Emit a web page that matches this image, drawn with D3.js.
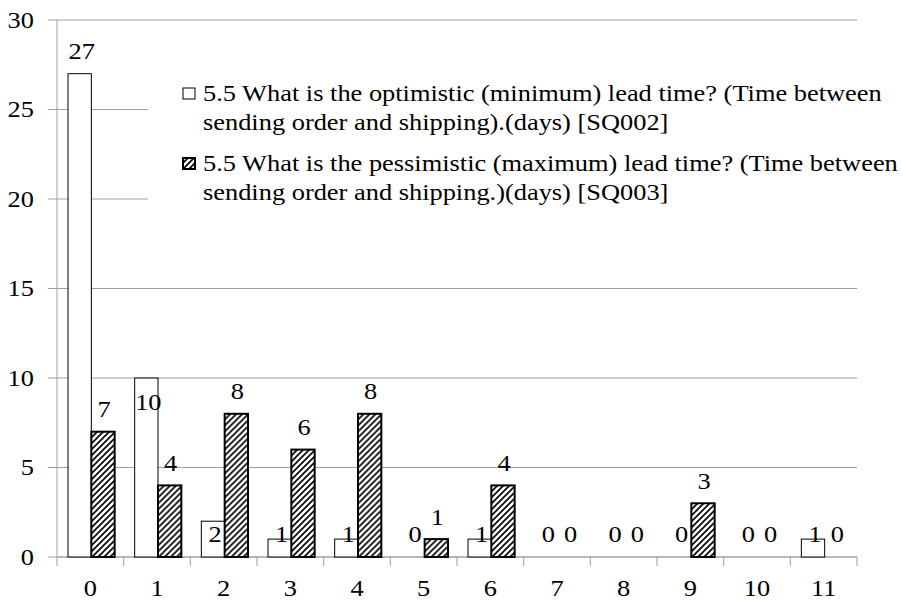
<!DOCTYPE html>
<html><head><meta charset="utf-8">
<script src="https://cdn.jsdelivr.net/npm/d3@7"></script>
</head><body style="margin:0;background:#fff"><svg id="c" width="903" height="600" font-family="Liberation Serif, Tinos, Times New Roman, serif"></svg>
<script>
const categories = ["0","1","2","3","4","5","6","7","8","9","10","11"];
const optimistic = [27,10,2,1,1,0,1,0,0,0,0,1];
const pessimistic = [7,4,8,6,8,1,4,0,0,3,0,0];
const seriesNames = [
  ["5.5 What is the optimistic (minimum) lead time? (Time between","sending order and shipping).(days)  [SQ002]"],
  ["5.5 What is the pessimistic (maximum) lead time? (Time between","sending order and shipping.)(days)  [SQ003]"]
];
const yTicks = [0,5,10,15,20,25,30];

const FONT = "Liberation Serif, Tinos, Times New Roman, serif";
const svg = d3.select("#c");
const L=57,R=857,T=20,B=557;
const FS=24, LFS=24, SX=1.1;
const x0 = d3.scaleBand().domain(categories).range([L,R]).paddingInner(0.3).paddingOuter(0.15);
const x1 = d3.scaleBand().domain([0,1]).range([0,x0.bandwidth()]);
const y = d3.scaleLinear().domain([0,30]).range([B,T]);

const defs = svg.append("defs");
const pat = defs.append("pattern").attr("id","hatch").attr("patternUnits","userSpaceOnUse").attr("width",6).attr("height",6);
pat.append("rect").attr("width",6).attr("height",6).attr("fill","#fff");
pat.append("path").attr("d","M-1,1 L1,-1 M0,6 L6,0 M5,7 L7,5").attr("stroke","#000").attr("stroke-width",1.6);

// gridlines + y labels
svg.append("g").selectAll("line").data(yTicks).join("line")
  .attr("x1",L-9).attr("x2",R).attr("y1",d=>y(d)).attr("y2",d=>y(d))
  .attr("stroke","#a0a0a0").attr("stroke-width",1);
svg.append("g").selectAll("text").data(yTicks).join("text")
  .attr("x",34).attr("y",d=>y(d)).attr("dy","0.33em").attr("text-anchor","end")
  .style("font-family",FONT).attr("font-size",FS).text(d=>d);

// legend background
const lg = svg.append("g");
lg.append("rect").attr("x",148).attr("y",62).attr("width",755).attr("height",164).attr("fill","#fff");

// y axis line
svg.append("line").attr("x1",L).attr("x2",L).attr("y1",T).attr("y2",B).attr("stroke","#a0a0a0");
// x axis
const xAxis = d3.axisBottom(x0).tickSize(0).tickPadding(27);
const gx = svg.append("g").attr("transform",`translate(0,${B})`).call(xAxis);
gx.attr("font-family",null);
gx.select(".domain").attr("stroke","#a0a0a0").attr("d",`M${L},0H${R}`);
gx.selectAll("text").attr("font-size",FS).style("font-family",FONT).attr("fill","#000").attr("dy","0.5em");
const bounds = categories.map(c=>x0(c)-x0.step()*x0.paddingInner()/2).concat([R]);
bounds[0]=L;
gx.append("g").selectAll("line").data(bounds).join("line")
  .attr("x1",d=>d).attr("x2",d=>d).attr("y1",0).attr("y2",9).attr("stroke","#a0a0a0");

// bars
const data = categories.map((c,i)=>({c,v:[optimistic[i],pessimistic[i]]}));
const groups = svg.append("g").selectAll("g").data(data).join("g")
  .attr("transform",d=>`translate(${x0(d.c)},0)`);
groups.selectAll("rect.o").data(d=>[d.v[0]]).join("rect")
  .attr("x",x1(0)+1).attr("width",x1.bandwidth()).attr("y",d=>y(d)).attr("height",d=>B-y(d))
  .attr("fill","#fff").attr("stroke",d=>d>0?"#000":"none").attr("stroke-width",1);
groups.selectAll("rect.p").data(d=>[d.v[1]]).join("rect")
  .attr("x",x1(1)+1).attr("width",x1.bandwidth()).attr("y",d=>y(d)).attr("height",d=>B-y(d))
  .attr("fill","url(#hatch)").attr("stroke",d=>d>0?"#000":"none").attr("stroke-width",2);

// labels
groups.append("text").attr("x",x1(0)+x1.bandwidth()/2+3).attr("text-anchor","middle")
  .style("font-family",FONT).attr("font-size",FS).attr("dy","0.35em")
  .attr("y",d=>{const v=d.v[0]; return v>=20? y(v)-23 : (v>=5? y(v)+24 : y(0)-23);})
  .text(d=>d.v[0]);
groups.append("text").attr("x",x1(1)+x1.bandwidth()/2+2).attr("text-anchor","middle")
  .style("font-family",FONT).attr("font-size",FS).attr("dy","0.35em")
  .attr("y",d=>y(d.v[1])-23).text(d=>d.v[1]);

// legend
const items = lg.selectAll("g.it").data(seriesNames).join("g").attr("class","it")
  .attr("transform",(d,i)=>`translate(0,${i*70})`);
items.append("rect").attr("x",183).attr("y",88).attr("width",12).attr("height",11)
  .attr("fill",(d,i)=>i?"url(#hatch)":"#fff").attr("stroke","#000").attr("stroke-width",(d,i)=>i?2:1);
items.selectAll("text").data(d=>d).join("text").attr("x",203).attr("y",(d,i)=>101+i*29)
  .style("font-family",FONT).attr("font-size",LFS).text(d=>d);

// the reference typography is slightly wide: stretch text horizontally
svg.selectAll("text").each(function(){
  const t=d3.select(this);
  const tx=+(t.attr("x")||0), ty=+(t.attr("y")||0);
  t.attr("x",0).attr("y",0).attr("transform",`translate(${tx},${ty}) scale(${SX},1)`);
});
</script></body></html>
